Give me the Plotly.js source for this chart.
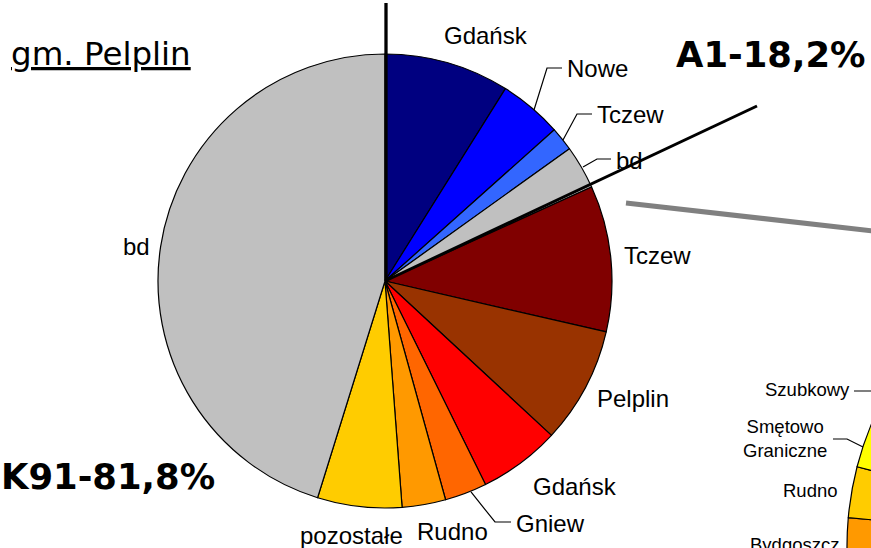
<!DOCTYPE html>
<html><head><meta charset="utf-8">
<script src="https://cdn.plot.ly/plotly-3.0.1.min.js"></script>
<style>
html,body{margin:0;padding:0;overflow:hidden;background:#fff;width:871px;height:548px}
#chart{width:1500px;height:880px}
</style>
</head><body><div id="chart"></div>
<script>
// ---- data (percent shares, clockwise from 12 o'clock) ----
const sliceGroups = ['A1','A1','A1','A1','K91','K91','K91','K91','K91','K91','K91'];
const sliceNames  = ['Gdańsk','Nowe','Tczew','bd','Tczew','Pelplin','Gdańsk','Gniew','Rudno','pozostałe','bd'];
const sliceValues = [8.9, 4.5, 1.7, 3.1, 10.4, 8.3, 5.8, 3.0, 3.1, 6.0, 45.2];
const sliceColors = ['#000080','#0000FF','#3366FF','#C0C0C0','#800000','#993300','#FF0000','#FF6600','#FF9900','#FFCC00','#C0C0C0'];
const groupTitles = ['A1-18,2%','K91-81,8%'];
const chartTitle  = 'gm. Pelplin';

// second (detail) pie, only its left edge is visible
const pie2Names  = ['Bydgoszcz','Rudno','Smętowo<br>Graniczne','Szubkowy','bd'];
const pie2Values = [4.2, 2.6, 3.2, 1.7, 88.3];
const pie2Colors = ['#FF9900','#FFCC00','#FFFF00','#FFFF99','#C0C0C0'];

// ---- layout helpers ----
const W = 1500, H = 880;
const px = x => x / W;
const py = y => 1 - y / H;
function domainFor(cx, cy, r) {
  return { x: [px(cx - r), px(cx + r)], y: [py(cy + r), py(cy - r)] };
}
function path(pts) {
  return pts.map((p, i) => (i ? 'L' : 'M') + px(p[0]).toFixed(5) + ',' + py(p[1]).toFixed(5)).join(' ');
}

const main = {
  type: 'pie',
  labels: sliceGroups.map((g, i) => g + ' ' + sliceNames[i]),
  values: sliceValues,
  sort: false,
  direction: 'clockwise',
  rotation: 0,
  textinfo: 'none',
  marker: { colors: sliceColors, line: { color: '#000', width: 1.2 } },
  domain: domainFor(385, 281, 227),
  hoverinfo: 'label+percent'
};
const detail = {
  type: 'pie',
  labels: pie2Names.map(n => 'detail ' + n),
  values: pie2Values,
  sort: false,
  direction: 'clockwise',
  rotation: -100,
  textinfo: 'none',
  marker: { colors: pie2Colors, line: { color: '#000', width: 1.2 } },
  domain: domainFor(1164, 546, 317),
  hoverinfo: 'label+percent'
};

const lblFont = { family: 'Liberation Sans, Arial, sans-serif', size: 24, color: '#000' };
const smFont  = { family: 'Liberation Sans, Arial, sans-serif', size: 18.5, color: '#000' };
const bigFont = { family: 'DejaVu Sans, Verdana, sans-serif', size: 35.4, color: '#000', weight: 'bold' };

function ann(text, x, y, font, xanchor) {
  return { text: text, x: px(x), y: py(y), xref: 'paper', yref: 'paper',
           xanchor: xanchor || 'center', yanchor: 'middle', showarrow: false, font: font };
}

const annotations = [
  ann('<u>' + chartTitle + '</u>', 100.5, 54, { family: 'DejaVu Sans, Verdana, sans-serif', size: 32.5, color: '#000' }),
  ann('<b>' + groupTitles[0] + '</b>', 770.5, 54, bigFont),
  ann('<b>' + groupTitles[1] + '</b>', 108, 476, bigFont),
  ann(sliceNames[0], 486.5, 36, lblFont),
  ann(sliceNames[1], 565, 68, lblFont, 'left'),
  ann(sliceNames[2], 595, 115, lblFont, 'left'),
  ann(sliceNames[3], 614, 160, lblFont, 'left'),
  ann(sliceNames[4], 657, 255.5, lblFont),
  ann(sliceNames[5], 633, 398, lblFont),
  ann(sliceNames[6], 575, 486.5, lblFont),
  ann(sliceNames[7], 514, 523.5, lblFont, 'left'),
  ann(sliceNames[8], 452.5, 531.5, lblFont),
  ann(sliceNames[9], 351.5, 535, lblFont),
  ann(sliceNames[10], 136, 246.5, lblFont),
  ann(pie2Names[3], 852, 390, smFont, 'right'),
  ann(pie2Names[2], 785.5, 438, smFont),
  ann(pie2Names[1], 840, 490.5, smFont, 'right'),
  ann(pie2Names[0], 748, 544, smFont, 'left')
];

const thin = { color: '#000', width: 1.2 };
const shapes = [
  { type: 'path', xref: 'paper', yref: 'paper', path: path([[386, 3], [386, 281]]), line: { color: '#000', width: 3.3 } },
  { type: 'path', xref: 'paper', yref: 'paper', path: path([[385, 281], [757, 106]]), line: { color: '#000', width: 3 } },
  { type: 'path', xref: 'paper', yref: 'paper', path: path([[626, 203], [900, 234]]), line: { color: '#808080', width: 5 } },
  { type: 'path', xref: 'paper', yref: 'paper', path: path([[534, 110], [547, 68], [562, 68]]), line: thin },
  { type: 'path', xref: 'paper', yref: 'paper', path: path([[563, 140], [577, 114], [592, 114]]), line: thin },
  { type: 'path', xref: 'paper', yref: 'paper', path: path([[583, 167], [597, 159], [611, 159]]), line: thin },
  { type: 'path', xref: 'paper', yref: 'paper', path: path([[471, 492], [495, 522], [511, 522]]), line: thin },
  { type: 'path', xref: 'paper', yref: 'paper', path: path([[854, 391], [890, 391]]), line: thin },
  { type: 'path', xref: 'paper', yref: 'paper', path: path([[833, 439], [847, 439], [863, 447]]), line: thin }
];

Plotly.newPlot('chart', [main, detail], {
  width: W, height: H,
  margin: { l: 0, r: 0, t: 0, b: 0, pad: 0 },
  paper_bgcolor: '#fff',
  showlegend: false,
  annotations: annotations,
  shapes: shapes
}, { displayModeBar: false, staticPlot: true });
</script>
</body></html>
